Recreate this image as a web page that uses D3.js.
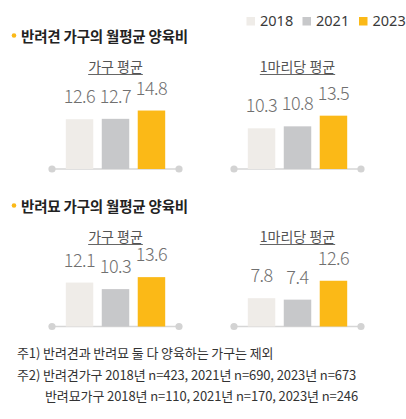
<html>
<head>
<style>
  body { margin: 0; background: #fff; }
  text { font-family: "Noto Sans CJK KR", "Noto Sans", sans-serif; }
</style>
</head>
<body>
<svg id="svg" width="406" height="419"></svg>
<script src="https://d3js.org/d3.v7.min.js"></script>
<script>

var years = ["2018", "2021", "2023"];
var colors = ["#efece8", "#c7c8ca", "#fbb917"];

var sections = ["반려견 가구의 월평균 양육비", "반려묘 가구의 월평균 양육비"];
var panels = ["가구 평균", "1마리당 평균"];

var dogHousehold = [12.6, 12.7, 14.8];
var dogPerPet = [10.3, 10.8, 13.5];
var catHousehold = [12.1, 10.3, 13.6];
var catPerPet = [7.8, 7.4, 12.6];

var notes = [
  "주1) 반려견과 반려묘 둘 다 양육하는 가구는 제외",
  "주2) 반려견가구 2018년 n=423, 2021년 n=690, 2023년 n=673",
  "반려묘가구 2018년 n=110, 2021년 n=170, 2023년 n=246"
];

var svg = d3.select("#svg");

// legend
var lx = [246.5, 302.5, 359];
svg.selectAll("g.leg").data(years)
  .join("g").classed("leg", true)
  .attr("transform", (d, i) => "translate(" + lx[i] + ",17)")
  .call(s => s.append("rect")
    .attr("width", 8.5).attr("height", 8.5)
    .style("fill", (d, i) => colors[i]))
  .call(s => s.append("text")
    .attr("x", 13.5).attr("y", 9)
    .style("font-size", "14.5px").style("fill", "#3a3a3a")
    .style("font-family", "'Noto Sans', sans-serif")
    .text(d => d));

function section(title, ty, base, k, left, right) {
  svg.append("circle").attr("cx", 14).attr("cy", ty - 6.5).attr("r", 2.3)
    .style("fill", "#fbb917");
  svg.append("text").attr("x", 21).attr("y", ty)
    .style("font-size", "14.5px").style("font-weight", "bold").style("fill", "#222")
    .style("letter-spacing", "-0.2px")
    .text(title);

  var y = d3.scaleLinear().domain([0, 15]).range([base, base - 15 * k]);
  [[left, 115.5, panels[0]], [right, 297.5, panels[1]]].forEach(p => {
    var vals = p[0], cx = p[1];
    var x = d3.scaleBand().domain(years)
      .range([cx - 49.7, cx + 49.7]).paddingInner(0.236).paddingOuter(0);
    var g = svg.append("g");

    var sub = g.append("text").attr("x", cx).attr("y", ty + 30)
      .attr("text-anchor", "middle")
      .style("font-size", "14px").style("fill", "#555")
      .text(p[2]);
    var w = sub.node().getComputedTextLength();
    g.append("line").attr("x1", cx - w / 2).attr("x2", cx + w / 2)
      .attr("y1", ty + 32.5).attr("y2", ty + 32.5)
      .style("stroke", "#666").style("stroke-width", 1);

    g.append("line").attr("x1", cx - 63.5).attr("x2", cx + 63.5)
      .attr("y1", base).attr("y2", base)
      .style("stroke", "#d6d6d6").style("stroke-width", 1.5);
    g.selectAll("circle").data([cx - 63.5, cx + 63.5]).join("circle")
      .attr("cx", d => d).attr("cy", base).attr("r", 3.6)
      .style("fill", "#d3d3d3");

    g.selectAll("rect").data(vals).join("rect")
      .attr("x", (d, i) => x(years[i]))
      .attr("y", d => y(d))
      .attr("width", x.bandwidth())
      .attr("height", d => base - y(d))
      .style("fill", (d, i) => colors[i]);

    g.selectAll("text.val").data(vals).join("text").classed("val", true)
      .attr("x", (d, i) => x(years[i]) + x.bandwidth() / 2)
      .attr("y", d => y(d) - 16)
      .attr("text-anchor", "middle")
      .style("font-family", "'Noto Sans CJK KR Light', 'Noto Sans CJK KR', sans-serif")
      .style("font-size", "18px").style("font-weight", 300).style("fill", "#707070")
      .style("letter-spacing", "-0.5px")
      .text(d => d.toFixed(1));
  });
}

section(sections[0], 42, 169, 3.95, dogHousehold, dogPerPet);
section(sections[1], 212, 326.5, 3.63, catHousehold, catPerPet);

svg.selectAll("text.note").data(notes).join("text").classed("note", true)
  .attr("x", (d, i) => i == 2 ? 45 : 17)
  .attr("y", (d, i) => 358 + i * 21.5)
  .style("font-size", "13px").style("fill", "#333").style("letter-spacing", "-0.1px")
  .text(d => d);

</script>
</body>
</html>
